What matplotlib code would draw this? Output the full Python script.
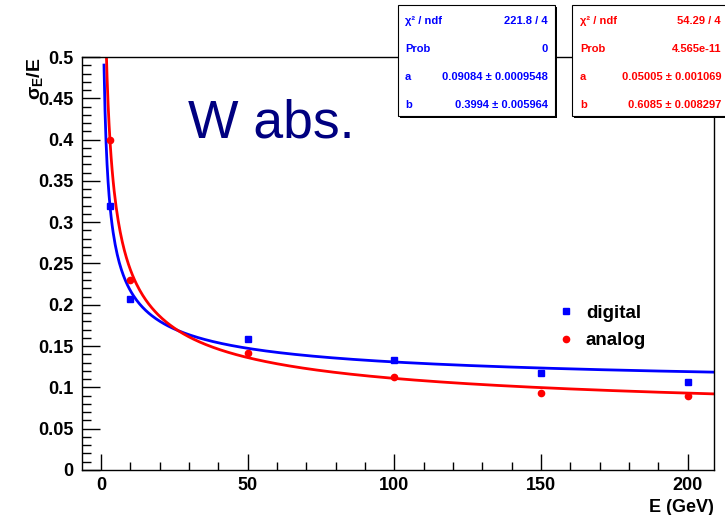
import numpy as np
import matplotlib
matplotlib.use("Agg")
import matplotlib.pyplot as plt
from matplotlib.patches import Rectangle
from matplotlib.ticker import MultipleLocator

plt.rcParams['font.family'] = ['Liberation Sans', 'DejaVu Sans']
plt.rcParams['mathtext.fontset'] = 'custom'
plt.rcParams['mathtext.rm'] = 'Liberation Sans:bold'
plt.rcParams['mathtext.bf'] = 'Liberation Sans:bold'
plt.rcParams['mathtext.it'] = 'Liberation Sans:bold'

# Beam energies (GeV) and measured relative resolution
energy = [3, 10, 50, 100, 150, 200]
digital = [0.320, 0.207, 0.158, 0.133, 0.117, 0.107]
analog = [0.400, 0.230, 0.142, 0.112, 0.093, 0.089]

# Fit results: sigma/E = a + b/sqrt(E)
fit_digital = [0.09084, 0.3994]
fit_analog = [0.05005, 0.6085]

stats_digital = [("χ² / ndf", "221.8 / 4"), ("Prob", "0"),
                 ("a", "0.09084 ± 0.0009548"), ("b", "0.3994 ± 0.005964")]
stats_analog = [("χ² / ndf", "54.29 / 4"), ("Prob", "4.565e-11"),
                ("a", "0.05005 ± 0.001069"), ("b", "0.6085 ± 0.008297")]

W, H = 725, 515
fig = plt.figure(figsize=(W / 100, H / 100), dpi=100)
ax = fig.add_axes([82 / W, 1 - 470 / H, (714 - 82) / W, (470 - 57) / H])

blue = (0, 0, 1)
red = (1, 0, 0)

e_fit = np.linspace(1.0, 209.0, 600)
ax.plot(e_fit, fit_digital[0] + fit_digital[1] / np.sqrt(e_fit), color=blue, lw=2.0, zorder=2)
ax.plot(e_fit, fit_analog[0] + fit_analog[1] / np.sqrt(e_fit), color=red, lw=2.0, zorder=2)

ax.plot(energy, digital, ls='none', marker='s', ms=5, color=blue, label='digital', zorder=3)
ax.plot(energy, analog, ls='none', marker='o', ms=4.5, color=red, label='analog', zorder=3)

ax.set_xlim(-6.5, 209.0)
ax.set_ylim(0, 0.5)

ax.xaxis.set_major_locator(MultipleLocator(50))
ax.xaxis.set_minor_locator(MultipleLocator(10))
ax.yaxis.set_major_locator(MultipleLocator(0.05))
ax.yaxis.set_minor_locator(MultipleLocator(0.01))
ax.yaxis.set_major_formatter(matplotlib.ticker.FuncFormatter(lambda v, p: f"{v:g}"))

ax.tick_params(axis='both', which='both', direction='in', top=False, right=False,
               labelsize=13, width=1)
ax.tick_params(axis='x', which='major', length=11.5, pad=5)
ax.tick_params(axis='x', which='minor', length=5.8)
ax.tick_params(axis='y', which='major', length=13, pad=6)
ax.tick_params(axis='y', which='minor', length=6.5)
for lab in ax.get_xticklabels() + ax.get_yticklabels():
    lab.set_fontweight('bold')
for sp in ax.spines.values():
    sp.set_linewidth(1.0)

ax.text(188 / W, 1 - 137 / H, "W abs.", transform=fig.transFigure, fontsize=38.5,
        color='#000080', ha='left', va='baseline')

fig.text(35 / W, 1 - 57 / H, r'$\sigma_{E}$/E', rotation=90, ha='center', va='top',
         fontsize=14, fontweight='bold')
fig.text(714 / W, 1 - 507 / H, "E (GeV)", ha='right', va='center',
         fontsize=13, fontweight='bold')

leg = ax.legend(loc='upper left', bbox_to_anchor=(540 / W, 1 - 288 / H),
                bbox_transform=fig.transFigure, frameon=False, handlelength=1.0,
                handletextpad=0.55, labelspacing=0.55, prop={'weight': 'bold', 'size': 13.5})


def stat_box(x0, x1, y0, y1, rows, color, xl, xr):
    # shadow then box, in pixel coordinates from the top-left
    fig.patches.append(Rectangle((x0 / W + 2 / W, 1 - y1 / H - 2 / H), (x1 - x0) / W, (y1 - y0) / H,
                                 transform=fig.transFigure, facecolor='black',
                                 edgecolor='none', zorder=10))
    fig.patches.append(Rectangle((x0 / W, 1 - y1 / H), (x1 - x0) / W, (y1 - y0) / H,
                                 transform=fig.transFigure, facecolor='white',
                                 edgecolor='black', lw=0.8, zorder=11))
    ys = [21, 49, 77, 105]
    for (k, v), yy in zip(rows, ys):
        fig.text(xl / W, 1 - yy / H, k, color=color, fontsize=8, fontweight='bold',
                 ha='left', va='center', zorder=12)
        fig.text(xr / W, 1 - yy / H, v, color=color, fontsize=8, fontweight='bold',
                 ha='right', va='center', zorder=12)


stat_box(398, 555, 5, 116, stats_digital, blue, 405, 548)
stat_box(572, 740, 5, 116, stats_analog, red, 580, 721)

fig.savefig("out.png", dpi=100)
